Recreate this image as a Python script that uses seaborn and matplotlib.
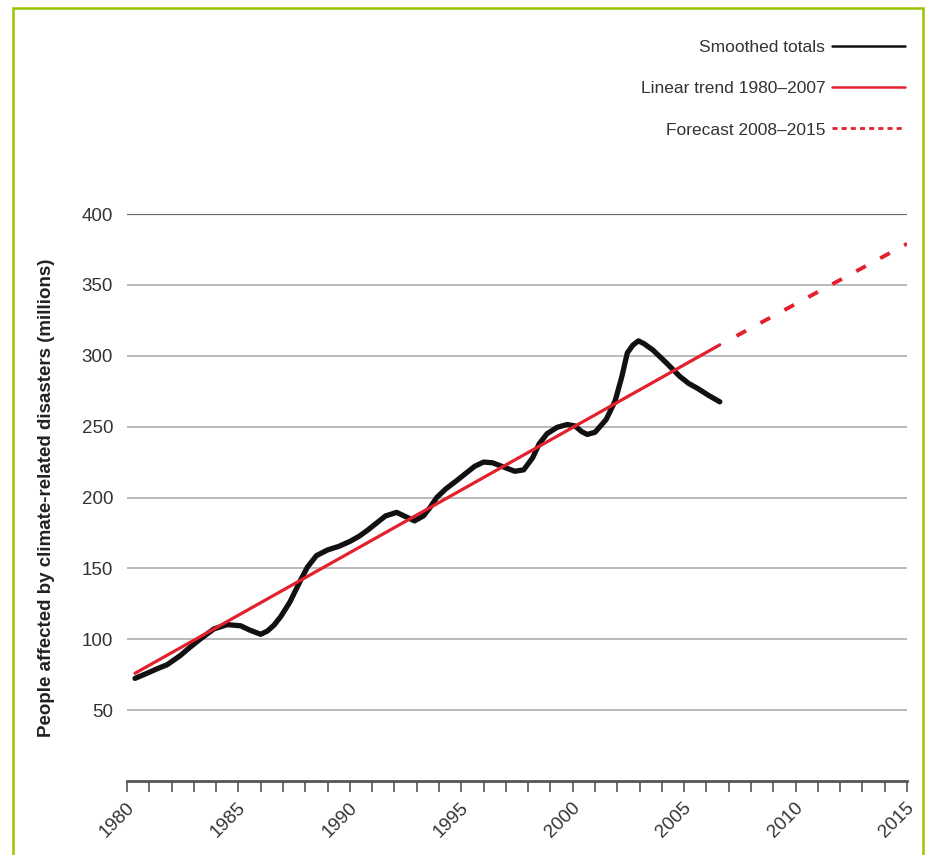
import numpy as np
import pandas as pd
import matplotlib
matplotlib.use("Agg")
import matplotlib.pyplot as plt
import matplotlib.patches as mpatches
import matplotlib.transforms as mtransforms
import seaborn as sns

# Data
years = [1980.36, 1980.9, 1981.4, 1981.8, 1982.4, 1982.8, 1983.3, 1983.9, 1984.5, 1985.1,
         1985.5, 1986.0, 1986.3, 1986.6, 1986.9, 1987.3, 1987.8, 1988.1, 1988.5, 1989.0,
         1989.5, 1990.0, 1990.4, 1990.8, 1991.2, 1991.6, 1992.1, 1992.5, 1992.9, 1993.3,
         1993.6, 1993.9, 1994.3, 1994.8, 1995.2, 1995.6, 1996.0, 1996.4, 1996.9, 1997.4,
         1997.8, 1998.2, 1998.5, 1998.85, 1999.3, 1999.75, 2000.1, 2000.4, 2000.65, 2001.0,
         2001.5, 2001.9, 2002.2, 2002.45, 2002.7, 2002.95, 2003.2, 2003.6, 2004.2, 2004.8,
         2005.2, 2005.6, 2006.1, 2006.6]
smoothed = [72.4, 76, 79.5, 82, 88.6, 94, 100.3, 107.3, 110.3, 109.5,
            106.5, 103.5, 105.8, 110, 116, 126, 142, 151, 159, 163,
            165.5, 169, 172.5, 177, 182, 187, 189.5, 186.5, 183.5, 187,
            193, 200, 206, 212, 217, 222, 225, 224.5, 221.5, 218.5,
            219.5, 228, 238, 245, 249.5, 251.5, 250.5, 246.5, 244.5, 246,
            255, 268, 285, 302, 307.5, 310.5, 308.5, 304, 295, 285.5,
            280.5, 277, 272, 267.5]

trend_years = [1980.36, 2006.6]
trend_vals = [76, 307.7]

forecast_years = [2007.35, 2015]
forecast_vals = [314, 379]

y_ticks = [50, 100, 150, 200, 250, 300, 350, 400]
x_major = [1980, 1985, 1990, 1995, 2000, 2005, 2010, 2015]
x_minor = list(range(1980, 2016))

df_s = pd.DataFrame({"year": years, "value": smoothed})
df_t = pd.DataFrame({"year": trend_years, "value": trend_vals})
df_f = pd.DataFrame({"year": forecast_years, "value": forecast_vals})

sns.set_theme(style="white")
plt.rcParams["font.family"] = ["Liberation Sans", "DejaVu Sans"]

red = "#e2202e"
fig = plt.figure(figsize=(9.26, 8.55), dpi=100)
ax = fig.add_axes([127 / 926, 74 / 855, 780 / 926, 567 / 855])

# grid lines
for v in y_ticks[:-1]:
    ax.axhline(v, color="#b4b4b4", lw=1.3, zorder=0)
ax.axhline(400, color="#6a6a6a", lw=1.6, zorder=0)

sns.lineplot(data=df_s, x="year", y="value", ax=ax, color="#111111", lw=3.8,
             label="Smoothed totals", solid_capstyle="round", solid_joinstyle="round")
sns.lineplot(data=df_t, x="year", y="value", ax=ax, color=red, lw=2.3,
             label="Linear trend 1980\u20132007")
sns.lineplot(data=df_f, x="year", y="value", ax=ax, color=red, lw=2.8,
             label="Forecast 2008\u20132015", dashes=False)
ax.lines[-1].set_dashes([2.8, 4.2])

ax.set_xlim(1980, 2015)
ax.set_ylim(0, 400)
ax.set_yticks(y_ticks)
ax.set_yticklabels([str(v) for v in y_ticks], fontsize=13.5, color="#333333")
ax.set_xticks(x_major)
ax.set_xticks(x_minor, minor=True)
ax.set_xticklabels([str(v) for v in x_major], rotation=45, ha="center", va="top",
                   fontsize=13.5, color="#333333")
ax.tick_params(axis="y", length=0, pad=10)
ax.tick_params(axis="x", which="both", length=8, width=1.2, color="#555555",
               direction="out", bottom=True, pad=5)

# nudge the year labels a little to the left, as in the original
shift = mtransforms.ScaledTranslation(-10 / 100, 0, fig.dpi_scale_trans)
for lbl in ax.get_xticklabels():
    lbl.set_transform(lbl.get_transform() + shift)

for s in ["top", "right", "left"]:
    ax.spines[s].set_visible(False)
ax.spines["bottom"].set_color("#555555")
ax.spines["bottom"].set_linewidth(2)

ax.set_xlabel("")
ax.set_ylabel("People affected by climate-related disasters (millions)",
              fontsize=13.5, fontweight="bold", color="#222222", labelpad=19)

handles, labels = ax.get_legend_handles_labels()
ax.get_legend().remove()
leg = fig.legend(handles, labels, loc="upper right", bbox_to_anchor=(905 / 926, 1 - 40 / 855),
                 frameon=False, markerfirst=False, fontsize=12.5, handlelength=4.2,
                 handletextpad=0.4, labelspacing=1.5, borderpad=0, borderaxespad=0,
                 labelcolor="#333333")
leg_lines = leg.get_lines()
leg_lines[0].set_linewidth(1.8)
leg_lines[1].set_linewidth(1.8)
leg_lines[2].set_linewidth(2.0)
leg_lines[2].set_dashes([1.8, 1.5])

# green frame
fig.patches.append(mpatches.Rectangle((13 / 926, -0.05), 910 / 926, 1.05 - 8 / 855,
                                      transform=fig.transFigure, fill=False,
                                      edgecolor="#99c400", lw=1.8))

fig.savefig("out.png", dpi=100)
